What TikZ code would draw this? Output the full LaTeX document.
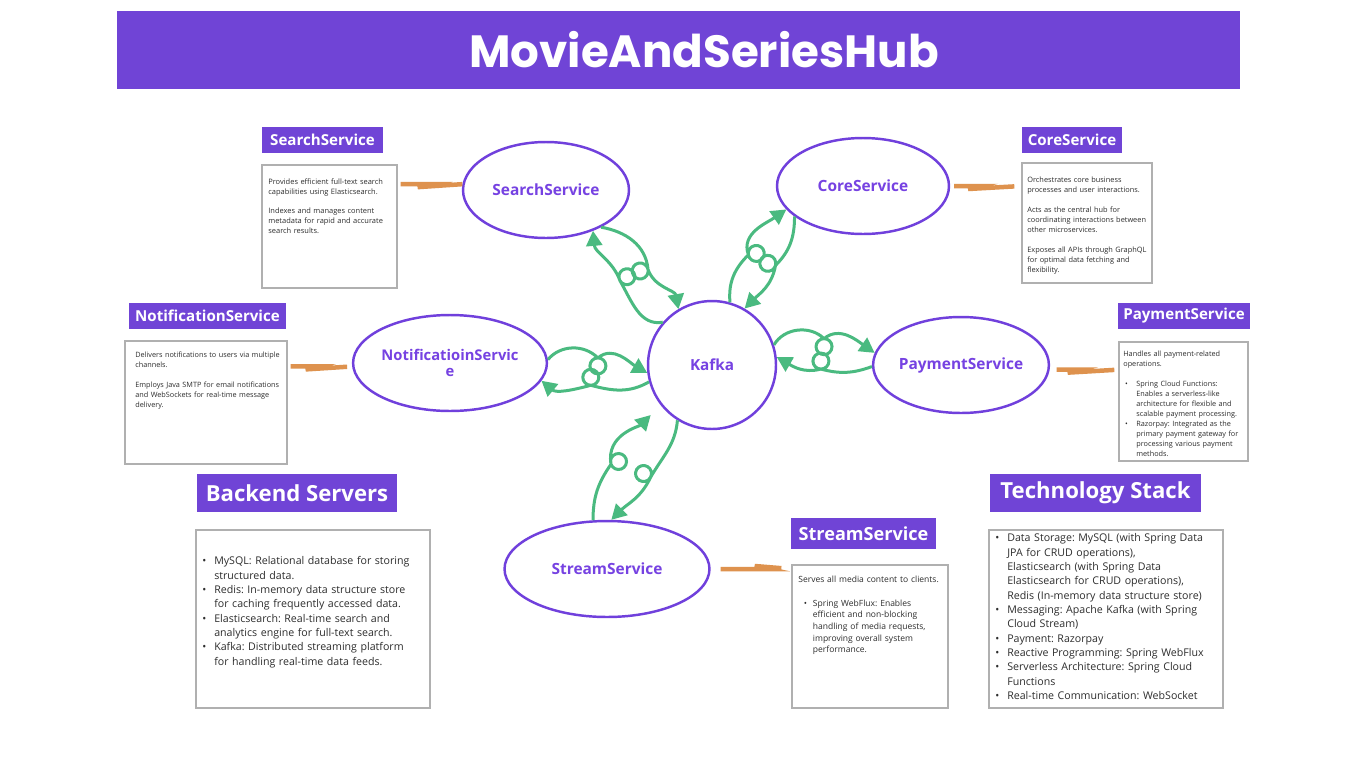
\documentclass[tikz,border=0pt]{standalone}
\usepackage{fontspec}
\setmainfont{Open Sans}
\newfontfamily\titlefont{Poppins}
\usetikzlibrary{shapes.geometric,arrows.meta}
\definecolor{hubpurple}{RGB}{112,68,214}
\definecolor{ringpurple}{RGB}{112,64,220}
\definecolor{labelpurple}{RGB}{118,66,226}
\definecolor{flowgreen}{RGB}{74,186,128}
\definecolor{brushorange}{RGB}{222,146,78}
\definecolor{boxgray}{RGB}{176,176,176}
\definecolor{bodytext}{RGB}{45,45,45}
\frenchspacing
% bullet line: [bullet offset]{hang}{text}
\newcommand{\bitem}[3][0pt]{\par\noindent\hangindent=#2\hangafter=1\makebox[#2][l]{\hspace*{#1}\textbullet}#3\par}

\begin{document}
\begin{tikzpicture}[x=0.02cm,y=0.02cm,
    head/.style={fill=hubpurple,text=white,font=\bfseries\fontsize{8.6}{10}\selectfont,inner sep=0,minimum height=0.52cm},
    card/.style={draw=boxgray,fill=white,line width=0.8pt,inner sep=0},
    desc/.style={anchor=north west,align=left,inner sep=0,text=bodytext},
    svc/.style={ellipse,draw=ringpurple,line width=1.4pt,inner sep=0,minimum height=1.92cm,text=labelpurple,font=\bfseries\fontsize{8.8}{9.4}\selectfont,align=center},
    flow/.style={draw=flowgreen,line width=0.06cm,-{Triangle[length=0.3cm,width=0.32cm]}},
    brush/.style={draw=brushorange,line width=0.09cm}]
    \useasboundingbox (0,0) rectangle (1366,-768);
    \fill[white] (0,0) rectangle (1366,-768);

    % Title
    \node[fill=hubpurple,minimum width=22.46cm,minimum height=1.56cm,inner sep=0] (titlebar) at (678.5,-50) {};
    \node[text=white,font=\titlefont\bfseries\fontsize{25.7}{31}\selectfont] (title) at (704,-50) {MovieAndSeriesHub};

    % Services
    \node[circle,draw=ringpurple,line width=1.4pt,minimum size=2.56cm,text=labelpurple,font=\bfseries\fontsize{8.7}{9.4}\selectfont] (kafka) at (712,-365) {Kafka};
    \node[svc,minimum width=3.32cm] (search) at (546,-190) {SearchService};
    \node[svc,minimum width=3.44cm] (core) at (863,-186) {CoreService};
    \node[svc,minimum width=3.8cm,font=\bfseries\fontsize{8.4}{9.4}\selectfont] (notif) at (450,-363) {NotificatioinServic\\e};
    \node[svc,minimum width=3.48cm] (payment) at (961,-365) {PaymentService};
    \node[svc,minimum width=4.1cm] (stream) at (607,-569) {StreamService};

    % Headers
    \node[head,minimum width=2.42cm] (searchhd) at (322.5,-140) {SearchService};
    \node[head,minimum width=2.0cm] (corehd) at (1072,-140) {CoreService};
    \node[head,minimum width=3.14cm] (notifhd) at (207.5,-316) {NotificationService};
    \node[head,minimum width=2.64cm] (payhd) at (1184,-316) {PaymentService};
    \node[head,minimum width=2.9cm,minimum height=0.62cm,font=\bfseries\fontsize{10.3}{12}\selectfont] (streamhd) at (863.5,-533.5) {StreamService};
    \node[head,minimum width=4.0cm,minimum height=0.76cm,font=\bfseries\fontsize{12.6}{15}\selectfont] (backhd) at (297,-493) {Backend Servers};
    \node[head,minimum width=4.22cm,minimum height=0.76cm,font=\bfseries\fontsize{12.6}{15}\selectfont] (techhd) at (1095.5,-493) {Technology Stack};

    % Cards
    \node[card,minimum width=2.7cm,minimum height=2.46cm] (searchtxt) at (329.5,-226.5) {};
    \node[card,minimum width=2.6cm,minimum height=2.4cm] (coretxt) at (1087,-223) {};
    \node[card,minimum width=3.24cm,minimum height=2.46cm] (notiftxt) at (206,-402.5) {};
    \node[card,minimum width=2.58cm,minimum height=2.38cm] (paytxt) at (1183.5,-401.5) {};
    \node[card,minimum width=3.12cm,minimum height=2.86cm] (streamtxt) at (870,-636.5) {};
    \node[card,minimum width=4.68cm,minimum height=3.56cm] (backtxt) at (313,-619) {};
    \node[card,minimum width=4.68cm,minimum height=3.56cm] (techtxt) at (1106,-619) {};

    % Card texts
    \node[desc,text width=2.6cm,font=\fontsize{4.25}{5.67}\selectfont] (searchdesc) at (268,-178) {Provides efficient full-text search\\capabilities using Elasticsearch.\par\vspace{5.67pt}Indexes and manages content\\metadata for rapid and accurate\\search results.};
    \node[desc,text width=2.5cm,font=\fontsize{4.2}{5.67}\selectfont] (coredesc) at (1027,-177) {Orchestrates core business\\processes and user interactions.\par\vspace{5.67pt}Acts as the central hub for\\coordinating interactions between\\other microservices.\par\vspace{5.67pt}Exposes all APIs through GraphQL\\for optimal data fetching and\\flexibility.};
    \node[desc,text width=3.1cm,font=\fontsize{4.15}{5.67}\selectfont] (notifdesc) at (135,-352) {Delivers notifications to users via multiple\\channels.\par\vspace{5.67pt}Employs Java SMTP for email notifications\\and WebSockets for real-time message\\delivery.};
    \node[desc,text width=2.5cm,font=\fontsize{4.15}{5.67}\selectfont] (paydesc) at (1123,-351) {Handles all payment-related\\operations.\par\vspace{5.67pt}%
      \bitem[1pt]{7.4pt}{Spring Cloud Functions:\newline Enables a serverless-like\newline architecture for flexible and\newline scalable payment processing.}%
      \bitem[1pt]{7.4pt}{Razorpay: Integrated as the\newline primary payment gateway for\newline processing various payment\newline methods.}};
    \node[desc,text width=2.95cm,font=\fontsize{4.85}{6.63}\selectfont] (streamdesc) at (798,-576) {Serves all media content to clients.\par\vspace{6.63pt}%
      \bitem[3.1pt]{8.3pt}{Spring WebFlux: Enables\newline efficient and non-blocking\newline handling of media requests,\newline improving overall system\newline performance.}};
    \node[desc,text width=4.5cm,font=\fontsize{6.05}{8.16}\selectfont] (backdesc) at (202,-550) {%
      \bitem{6.8pt}{MySQL: Relational database for storing\newline structured data.}%
      \bitem{6.8pt}{Redis: In-memory data structure store\newline for caching frequently accessed data.}%
      \bitem{6.8pt}{Elasticsearch: Real-time search and\newline analytics engine for full-text search.}%
      \bitem{6.8pt}{Kafka: Distributed streaming platform\newline for handling real-time data feeds.}};
    \node[desc,text width=4.5cm,font=\fontsize{6.05}{8.16}\selectfont] (techdesc) at (995,-527) {%
      \bitem{6.8pt}{Data Storage: MySQL (with Spring Data\newline JPA for CRUD operations),\newline Elasticsearch (with Spring Data\newline Elasticsearch for CRUD operations),\newline Redis (In-memory data structure store)}%
      \bitem{6.8pt}{Messaging: Apache Kafka (with Spring\newline Cloud Stream)}%
      \bitem{6.8pt}{Payment: Razorpay}%
      \bitem{6.8pt}{Reactive Programming: Spring WebFlux}%
      \bitem{6.8pt}{Serverless Architecture: Spring Cloud\newline Functions}%
      \bitem{6.8pt}{Real-time Communication: WebSocket}};

    % Brush strokes
    \draw[brush,shorten <=0.06cm] (searchtxt.east |- search.176) -- ++(34,0) -- ++(-14,-3) -- (search.176);
    \draw[brush,shorten <=0.08cm,shorten >=0.14cm] (core.0) -- ++(30,0) -- ++(-12,-3) -- (coretxt.west |- core.0);
    \draw[brush,shorten <=0.06cm,shorten >=0.1cm] (notiftxt.east |- notif.182) -- ++(30,0) -- ++(-12,-3) -- (notif.182);
    \draw[brush,shorten <=0.14cm,shorten >=0.08cm] (payment.-3) -- ++(30,0) -- ++(-12,-3) -- (paytxt.west |- payment.-3);
    \draw[brush,shorten <=0.2cm,shorten >=0.2cm] (stream.east) -- ++(58,0) -- ++(-14,3) -- (streamtxt.west |- stream.east);

    % Kafka links
    \draw[flow] (search.-34) to[out=-10,in=95] ++(46.9,-42.4) arc[start angle=10,delta angle=-360,radius=0.16cm] to[out=-70,in=100] (kafka.121);
    \draw[flow] (kafka.139) to[out=190,in=-60] ++(-42.8,41.5) arc[start angle=210,delta angle=-360,radius=0.16cm] to[out=110,in=-85] (search.-41);
    \draw[flow] (kafka.74) to[out=95,in=225] ++(18.4,47.5) arc[start angle=190,delta angle=-360,radius=0.16cm] to[out=110,in=215] (core.197);
    \draw[flow] (core.204) to[out=270,in=45] ++(-19,-48.9) arc[start angle=-15,delta angle=-360,radius=0.16cm] to[out=-100,in=45] (kafka.60);
    \draw[flow] (kafka.18) to[out=60,in=135] ++(50,6.2) arc[start angle=90,delta angle=-360,radius=0.16cm] to[out=40,in=145] (payment.172);
    \draw[flow] (payment.181) to[out=200,in=-15] ++(-51,-2.5) arc[start angle=-90,delta angle=-360,radius=0.16cm] to[out=195,in=-30] (kafka.7);
    \draw[flow] (notif.2) to[out=50,in=135] ++(50,1.7) arc[start angle=90,delta angle=-360,radius=0.16cm] to[out=40,in=150] (kafka.187);
    \draw[flow] (kafka.195) to[out=210,in=-15] ++(-58.2,-3.4) arc[start angle=-90,delta angle=-360,radius=0.16cm] to[out=195,in=-40] (notif.-11);
    \draw[flow,shorten >=0.28cm] (stream.106) to[out=90,in=235] ++(18,56) arc[start angle=200,delta angle=-360,radius=0.16cm] to[out=100,in=225] (kafka.218);
    \draw[flow] (kafka.238) to[out=265,in=60] ++(-27,-57.2) arc[start angle=330,delta angle=-360,radius=0.16cm] to[out=245,in=45] (stream.85);
\end{tikzpicture}
\end{document}
